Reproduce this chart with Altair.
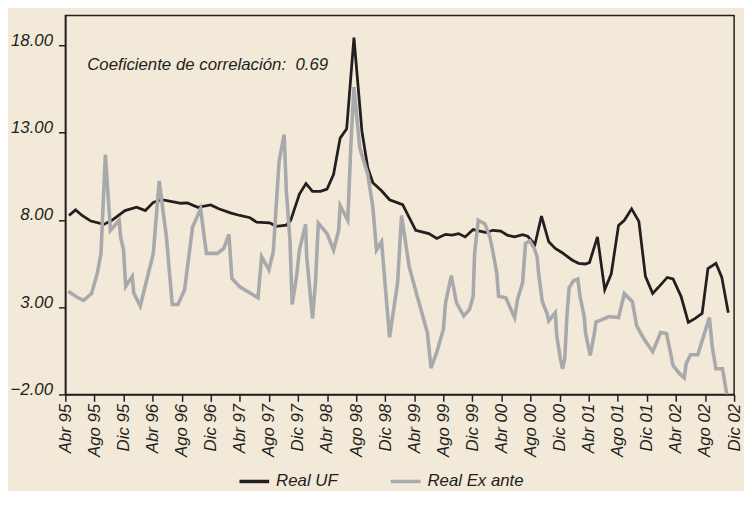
import altair as alt
import pandas as pd

# ---- data (months since Abr 95, value) ----
SERIES = ["Real UF", "Real Ex ante"]
COLORS = ["#231F20", "#A7A9AC"]

uf_t = [0.5, 1.4, 2.3, 3.5, 5.3, 6.4, 8.2, 9.8, 11.0, 12.1, 13.2, 14.5, 15.9, 16.8, 18.2, 20.0,
        21.1, 22.7, 24.0, 25.4, 26.3, 28.1, 29.0, 30.4, 31.0, 32.2, 33.1, 34.0, 35.1, 36.0, 36.9,
        37.8, 38.7, 39.7, 40.8, 41.6, 42.3, 43.5, 44.6, 46.4, 48.2, 50.0, 51.1, 52.3, 53.2, 54.1,
        55.0, 56.1, 57.9, 58.8, 59.9, 60.8, 61.8, 62.9, 63.6, 64.6, 65.5, 66.5, 67.4, 68.3, 69.7,
        70.6, 71.5, 72.1, 73.2, 74.2, 75.1, 76.1, 76.9, 77.9, 78.9, 79.8, 80.8, 81.8, 82.8, 83.6,
        84.7, 85.7, 86.6, 87.6, 88.4, 89.5, 90.3, 91.2]
uf_v = [8.25, 8.57, 8.25, 7.93, 7.74, 7.97, 8.53, 8.72, 8.53, 9.00, 9.15, 9.06, 8.95, 8.97, 8.72,
        8.85, 8.63, 8.40, 8.25, 8.12, 7.87, 7.83, 7.63, 7.70, 7.97, 9.48, 10.08, 9.63, 9.63, 9.76,
        10.61, 12.68, 13.21, 18.44, 13.06, 10.98, 10.13, 9.66, 9.15, 8.87, 7.40, 7.21, 6.93, 7.17,
        7.12, 7.21, 7.02, 7.44, 7.27, 7.40, 7.36, 7.12, 7.02, 7.15, 7.06, 6.59, 8.21, 6.74, 6.36,
        6.13, 5.70, 5.51, 5.47, 5.55, 7.02, 4.00, 4.91, 7.68, 7.97, 8.63, 7.91, 4.76, 3.78, 4.23,
        4.70, 4.61, 3.62, 2.12, 2.34, 2.64, 5.21, 5.51, 4.72, 2.68]

ea_t = [0.4, 1.5, 2.5, 3.6, 4.4, 4.9, 5.5, 6.2, 7.4, 7.6, 8.0, 8.3, 9.2, 9.4, 10.3, 11.2, 12.1,
        12.9, 13.9, 14.7, 15.5, 16.4, 17.5, 18.6, 19.4, 20.9, 21.8, 22.5, 22.9, 24.0, 26.5, 27.0,
        28.0, 28.6, 29.4, 30.1, 30.4, 30.9, 31.2, 31.8, 32.2, 33.05, 33.2, 34.0, 34.4, 34.8, 36.0,
        36.9, 37.6, 37.8, 38.85, 39.3, 39.7, 40.5, 41.6, 42.3, 42.8, 43.5, 44.6, 45.7, 46.25, 47.3,
        48.4, 49.8, 50.3, 51.1, 52.0, 52.3, 53.1, 53.8, 54.8, 55.6, 56.1, 56.3, 56.8, 57.7, 58.4,
        58.8, 59.35, 59.6, 60.6, 61.8, 62.2, 62.9, 63.3, 63.9, 64.5, 64.9, 65.1, 65.6, 66.3, 66.5,
        67.4, 67.6, 68.1, 68.4, 68.7, 69.0, 69.3, 69.9, 70.5, 70.8, 71.4, 71.55, 72.2, 72.8, 73.0,
        73.9, 74.8, 76.1, 76.9, 78.0, 78.6, 79.6, 80.8, 81.9, 82.7, 83.6, 84.5, 85.15, 85.4, 86.0,
        87.0, 88.6, 89.0, 89.5, 90.4, 91.0]
ea_v = [3.91, 3.59, 3.38, 3.78, 4.95, 6.08, 11.74, 7.40, 7.97, 7.02, 6.27, 4.19, 4.76, 3.82, 3.06,
        4.57, 6.08, 10.23, 7.02, 3.15, 3.15, 4.00, 7.59, 8.63, 6.08, 6.08, 6.36, 7.17, 4.66, 4.16,
        3.53, 5.89, 5.13, 6.17, 11.36, 12.88, 9.66, 6.83, 3.15, 4.76, 6.27, 7.74, 5.89, 2.34, 4.38,
        7.81, 7.21, 6.27, 7.40, 8.82, 7.97, 12.5, 15.6, 12.12, 10.61, 8.72, 6.27, 6.74, 1.27, 4.38,
        8.25, 5.32, 3.62, 1.55, -0.49, 0.42, 1.74, 3.25, 4.81, 3.25, 2.49, 2.87, 3.62, 6.08, 7.97,
        7.78, 7.02, 6.2, 4.95, 3.62, 3.53, 2.40, 3.44, 4.38, 6.64, 6.79, 6.36, 5.89, 4.95, 3.34,
        2.59, 2.21, 2.68, 1.36, 0.04, -0.53, 0.04, 2.49, 4.10, 4.51, 4.61, 3.62, 2.40, 1.55, 0.23,
        1.55, 2.15, 2.30, 2.46, 2.40, 3.78, 3.31, 1.92, 1.17, 0.45, 1.55, 1.49, -0.34, -0.81, -1.05,
        -0.24, 0.27, 0.27, 2.40, 0.70, -0.53, -0.53, -2.0]

tick_labels = ["Abr 95", "Ago 95", "Dic 95", "Abr 96", "Ago 96", "Dic 96", "Abr 97", "Ago 97",
               "Dic 97", "Abr 98", "Ago 98", "Dic 98", "Abr 99", "Ago 99", "Dic 99", "Abr 00",
               "Ago 00", "Dic 00", "Abr 01", "Ago 01", "Dic 01", "Abr 02", "Ago 02", "Dic 02"]
y_ticks = [-2, 3, 8, 13, 18]

note_text = "Coeficiente de correlación:\u00a0 0.69"
note_t, note_v = [3.0], [16.57]

# ---- tables ----
df_uf = pd.DataFrame([(t, v, SERIES[0]) for t, v in zip(uf_t, uf_v)], columns=["t", "v", "serie"])
df_ea = pd.DataFrame([(t, v, SERIES[1]) for t, v in zip(ea_t, ea_v)], columns=["t", "v", "serie"])
df_note = pd.DataFrame({"t": note_t, "v": note_v, "txt": [note_text]})

FONT = "Liberation Sans, Arial, sans-serif"
FS = 17
INK = "#231F20"

label_expr = "[" + ",".join("'" + s + "'" for s in tick_labels) + "][round(datum.value/4)]"

x_enc = alt.X("t:Q",
              scale=alt.Scale(domain=[0, 92], nice=False, zero=False),
              axis=alt.Axis(values=list(range(0, 93, 4)), labelExpr=label_expr,
                            labelAngle=270, labelAlign="right", labelBaseline="middle",
                            labelPadding=2, labelOverlap=False, labelBound=False,
                            labelFlush=False, labelSeparation=0, title=None))
y_enc = alt.Y("v:Q",
              scale=alt.Scale(domain=[-2, 19.7], nice=False, zero=False),
              axis=alt.Axis(values=y_ticks, format=".2f", labelBaseline="alphabetic",
                            labelPadding=6, labelOverlap=False, title=None))
color_enc = alt.Color("serie:N",
                      scale=alt.Scale(domain=SERIES, range=COLORS),
                      legend=alt.Legend(orient="none", legendX=174, legendY=454,
                                        direction="horizontal", title=None,
                                        symbolType="stroke", symbolSize=900,
                                        symbolStrokeWidth=3.5, labelFont=FONT,
                                        labelFontSize=FS, labelFontStyle="italic",
                                        labelColor=INK, labelOffset=5, columnPadding=46,
                                        padding=0))

uf = alt.Chart(df_uf).mark_line(strokeWidth=2.8, clip=True).encode(
    x=x_enc, y=y_enc, color=color_enc, order="t:Q")
ea = alt.Chart(df_ea).mark_line(strokeWidth=3.6, clip=True).encode(
    x=x_enc, y=y_enc, color=color_enc, order="t:Q")
note = alt.Chart(df_note).mark_text(align="left", baseline="alphabetic", font=FONT,
                                    fontSize=FS, fontStyle="italic", color=INK).encode(
    x=x_enc, y=y_enc, text="txt:N")

chart = alt.layer(uf, ea, note).properties(
    width=676, height=383,
    autosize=alt.AutoSizeParams(type="none"),
    padding={"left": 58, "top": 5, "right": 10, "bottom": 95},
    background="#F2E9D8",
).configure_view(
    stroke=INK, strokeWidth=1.5
).configure_axis(
    labelFont=FONT, labelFontSize=FS, labelFontStyle="italic", labelColor=INK,
    tickColor=INK, tickSize=7, tickWidth=1.5, domainColor=INK, domainWidth=1.5,
    grid=False, labelOverlap=False
)

chart.save("out.html", embed_options={"renderer": "svg", "actions": False})
